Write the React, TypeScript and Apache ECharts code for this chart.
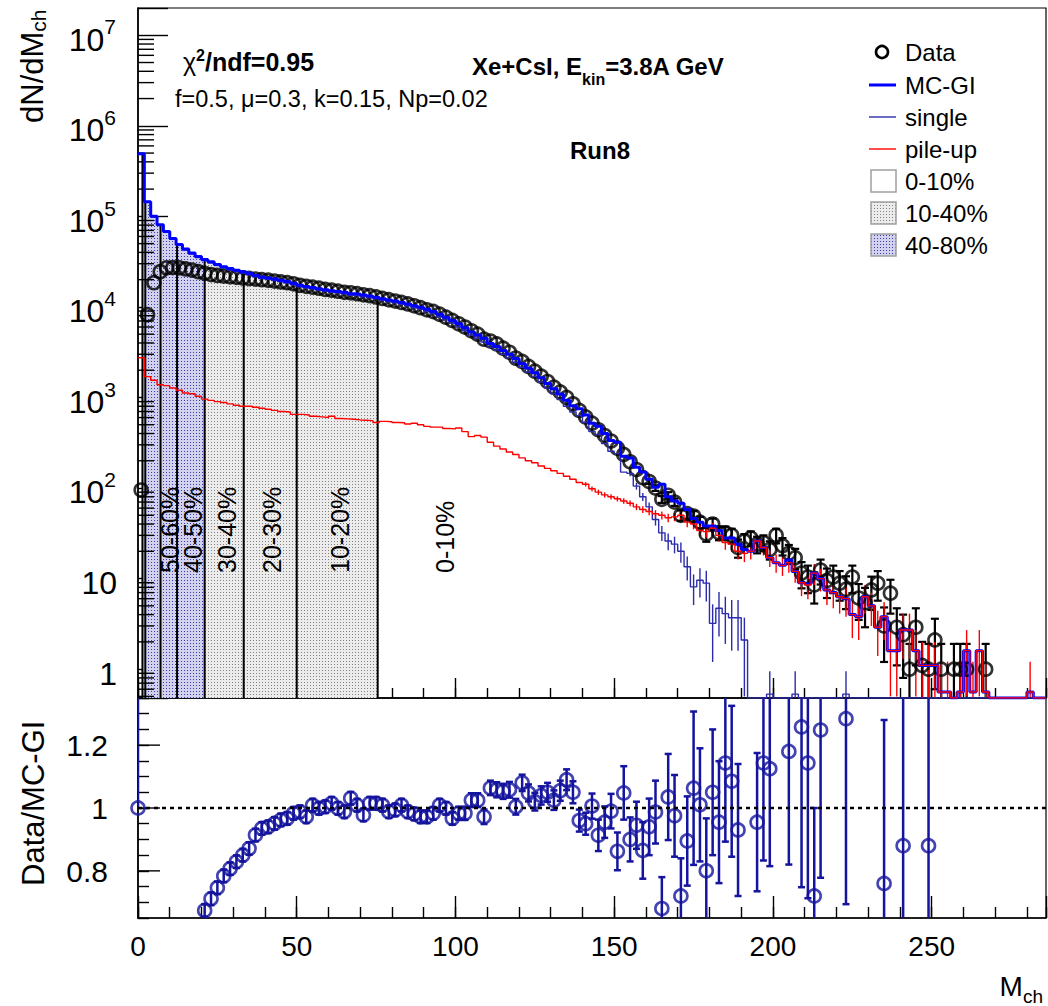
import React, { useEffect, useRef } from "react";
import * as echarts from "echarts";

// ---------------- data (bins of width 2, centres 1,3,5,...,285) ----------------
const BIN_WIDTH = 2;
const X_MIN = 0;
const X_MAX = 286;
const Y_MIN = 0.48;
const Y_MAX = 2e7;
const R_MIN = 0.65;
const R_MAX = 1.35;

const DATA = [
  95, 8200, 18500, 24500, 27000, 27200, 27000, 26300, 25500, 24500,
  23500, 22800, 22300, 21900, 21500, 21200, 20900, 20600, 20300, 20000,
  19700, 19300, 18900, 18500, 18000, 17300, 16900, 16500, 16100, 15600,
  15300, 14900, 14500, 14300, 14000, 13600, 13300, 12900, 12400, 12000,
  11600, 11200, 10800, 10300, 9800, 9300, 8900, 8300, 7700, 7100,
  6500, 6000, 5450, 5000, 4400, 4200, 3900, 3500, 3150, 2720,
  2500, 2200, 1950, 1720, 1500, 1300, 1150, 1000, 850, 720,
  610, 520, 440, 380, 330, 275, 235, 195, 160, 130,
  118, 100, 75, 83, 70, 50, 52, 49, 42, 31,
  40, 32, 32, 30, 22, 26, 28, 24, 25, 21,
  30, 23, 19, 17, 11.5, 10.4, 8.5, 12.4, 9.5, 10.4,
  8.9, 7.6, 10.4, 6.1, 5.4, 7.5, 8.9, 3, 6.9, 2.9,
  2.4, 1, 2.9, 1.1, 1, 2.1, 1, 0, 1, 1,
  1, 0, 0, 1, 0, 0, 0, 0, 0, 0,
  0, 0, 0,
];
const DATA_ERR_FROM = 161;
const DATA_ERR = [
  7, 7, 6.5, 7, 6.5, 6.5, 6.5, 6.5, 6, 5.5,
  6, 5.5, 5.5, 5.5, 5, 5, 5.2, 5, 5, 4.8,
  5.5, 5, 4.5, 4.3, 3.7, 3.5, 3.2, 3.8, 3.4, 3.5,
  3.2, 3, 3.5, 2.6, 2.5, 3, 3.2, 1.8, 2.8, 1.8,
  1.6, 0.9, 1.8, 0.9, 0.9, 1.5, 0.9, 0, 0.9, 0.9,
  0.9, 0, 0, 0.9,
];

const MC_GI = [
  490000, 145000, 100000, 81000, 68000, 57000, 49000, 43500, 39500, 36000,
  33500, 31500, 29500, 27800, 26500, 25400, 24400, 23500, 22300, 21400,
  20900, 20300, 19700, 19100, 18300, 17400, 16800, 16400, 15900, 15500,
  15100, 14800, 14500, 14000, 13900, 13500, 13200, 12800, 12300, 11900,
  11600, 11200, 10800, 10300, 9900, 9400, 8900, 8300, 7700, 7100,
  6500, 5900, 5300, 4900, 4500, 3950, 3650, 3300, 3000, 2700,
  2350, 2100, 1880, 1650, 1430, 1250, 1090, 930, 810, 750,
  640, 520, 480, 400, 335, 320, 225, 215, 170, 150,
  125, 102, 110, 80, 72, 68, 58, 46, 42, 38,
  38, 34, 28, 28, 24, 21, 20, 26, 22, 17,
  15, 14, 16, 12, 9, 8.7, 11.5, 10, 7.5, 7,
  6.3, 6, 4, 3.8, 6.3, 5, 2.9, 3.8, 1.6, 1.6,
  2.7, 2.7, 1.6, 1.1, 1.1, 1.1, 0.56, 0.56, 0, 0.56,
  1.6, 0.56, 1.6, 0.56, 0, 0, 0, 0, 0, 0,
  0.56, 0, 0,
];

const SINGLE = [
  487000, 143000, 98500, 79600, 66600, 55700, 47800, 42400, 38400, 35000,
  32500, 30600, 28600, 26900, 25600, 24600, 23600, 22700, 21500, 20600,
  20200, 19600, 19000, 18400, 17600, 16700, 16200, 15800, 15300, 14900,
  14500, 14200, 13900, 13400, 13300, 12900, 12600, 12300, 11800, 11400,
  11100, 10700, 10300, 9800, 9400, 8900, 8400, 7800, 7200, 6650,
  6000, 5500, 4900, 4500, 4100, 3600, 3350, 3000, 2750, 2450,
  2150, 1900, 1700, 1480, 1270, 1100, 950, 800, 690, 630,
  530, 420, 390, 310, 255, 240, 150, 145, 105, 80,
  62, 45, 32, 26, 24, 20, 13.5, 8.1, 9.6, 8.9,
  3.2, 4.7, 4.1, 3.7, 3.7, 2.1, 0, 0, 0, 0.53,
  0, 0, 0, 0.53, 0, 0, 0, 0, 0, 0,
  0, 0.53, 0, 0, 0, 0, 0, 0, 0, 0,
  0, 0, 0, 0, 0, 0, 0, 0, 0, 0,
  0, 0, 0, 0, 0, 0, 0, 0, 0, 0,
  0, 0, 0,
];
const SINGLE_ERR_FROM = 155;
const SINGLE_ERR = [
  10, 9, 8, 7, 6.5, 6, 5.5, 5, 5, 4,
  3, 3.4, 3.3, 2, 2.4, 2.2, 2.1, 2.1, 1.6, 0,
  0, 0, 0.42, 0, 0, 0, 0.42, 0, 0, 0,
  0, 0, 0, 0, 0.42,
];

const PILEUP = [
  2750, 1700, 1550, 1380, 1350, 1270, 1200, 1120, 1100, 1030,
  960, 930, 900, 880, 850, 820, 800, 800, 780, 760,
  740, 720, 700, 690, 650, 650, 640, 620, 610, 600,
  620, 585, 580, 575, 565, 560, 555, 530, 545, 540,
  530, 525, 510, 520, 500, 480, 470, 470, 455, 450,
  460, 420, 370, 380, 365, 320, 290, 270, 250, 235,
  215, 200, 190, 175, 165, 155, 145, 135, 125, 115,
  110, 98, 90, 84, 80, 76, 72, 68, 62, 58,
  55, 52, 50, 47, 48, 50, 42, 40, 34, 33,
  36, 30, 25, 24, 20, 19, 20, 26, 22, 17,
  15, 14, 15, 12, 9, 8.5, 11.5, 10, 7.5, 7,
  6.3, 6, 4, 3.8, 6.3, 5, 2.9, 3.8, 1.6, 1.6,
  2.7, 2.7, 1.6, 1.1, 1.1, 1.1, 0.56, 0.56, 0, 0.56,
  1.6, 0.56, 1.6, 0.56, 0, 0, 0, 0, 0, 0,
  0.56, 0, 0,
];
const PILEUP_ERR_FROM = 141;
const PILEUP_ERR = [
  6, 6, 6, 5.5, 5.5, 5, 5, 5, 5, 5,
  5, 5, 5, 5, 5, 5.5, 5, 5, 4.8, 4.8,
  5, 4.5, 4.2, 4.2, 3.8, 3.8, 3.8, 4.4, 4, 3.6,
  3.4, 3.3, 3.4, 3, 2.6, 2.6, 3, 2.8, 2.4, 2.3,
  2.2, 2.2, 1.8, 1.7, 2.2, 2, 1.5, 1.7, 1.1, 1.1,
  1.4, 1.4, 1.1, 0.9, 0.9, 0.9, 0.65, 0.65, 0, 0.65,
  1.1, 0.65, 1.1, 0.65, 0, 0, 0, 0, 0, 0,
  0.65, 0, 0,
];

// ratio Data / MC-GI
const RATIO_M = [
  0,
  21, 23, 25, 27, 29, 31, 33, 35, 37, 39,
  41, 43, 45, 47, 49, 51, 53, 55, 57, 59,
  61, 63, 65, 67, 69, 71, 73, 75, 77, 79,
  81, 83, 85, 87, 89, 91, 93, 95, 97, 99,
  101, 103, 105, 107, 109, 111, 113, 115, 117, 119,
  121, 123, 125, 127, 129, 131, 133, 135, 137, 139,
  141, 143, 145, 147, 149, 151, 153, 155, 157, 159,
  161, 163, 165, 167, 169, 171, 173, 175, 177, 179,
  181, 183, 185, 187, 189,
  195, 197, 199, 205, 209, 211, 213, 215, 223, 235, 241, 249,
];
const RATIO_V = [
  1.0,
  0.674, 0.711, 0.746, 0.784, 0.807, 0.829, 0.85, 0.871, 0.914, 0.935,
  0.94, 0.951, 0.962, 0.967, 0.983, 0.988, 0.972, 1.009, 0.999, 1.004,
  1.015, 0.999, 0.988, 1.031, 1.009, 0.978, 1.015, 1.015, 1.009, 0.988,
  0.994, 1.009, 0.988, 0.981, 0.972, 0.972, 0.983, 1.009, 0.999, 0.967,
  0.983, 0.983, 1.025, 1.025, 0.972, 1.064, 1.058, 1.053, 1.058, 1.004,
  1.08, 1.048, 1.02, 1.04, 1.05, 1.025, 1.055, 1.09, 1.05, 0.96,
  0.95, 1.006, 0.913, 0.955, 0.99, 0.862, 1.048, 0.9, 0.945, 0.865,
  0.94, 0.987, 0.68, 1.035, 0.975, 0.72, 0.895, 1.063, 1.01, 0.8,
  1.05, 0.955, 1.143, 1.085, 0.93,
  0.955, 1.143, 1.125, 1.18, 1.258, 1.143, 0.72, 1.248, 1.284, 0.76, 0.88, 0.88,
];
const RATIO_E = [
  0.5,
  0.02, 0.02, 0.02, 0.02, 0.02, 0.02, 0.02, 0.02, 0.02, 0.02,
  0.02, 0.02, 0.02, 0.02, 0.02, 0.02, 0.02, 0.02, 0.02, 0.02,
  0.02, 0.02, 0.02, 0.02, 0.02, 0.02, 0.02, 0.02, 0.02, 0.02,
  0.02, 0.02, 0.02, 0.02, 0.02, 0.02, 0.02, 0.02, 0.02, 0.02,
  0.021, 0.021, 0.022, 0.022, 0.023, 0.023, 0.024, 0.024, 0.025, 0.025,
  0.026, 0.027, 0.028, 0.029, 0.03, 0.031, 0.032, 0.033, 0.035, 0.035,
  0.035, 0.04, 0.05, 0.05, 0.055, 0.06, 0.085, 0.07, 0.075, 0.09,
  0.09, 0.1, 0.1, 0.137, 0.13, 0.12, 0.142, 0.244, 0.18, 0.167,
  0.2, 0.194, 0.25, 0.24, 0.21,
  0.22, 0.31, 0.31, 0.36, 0.51, 0.43, 0.28, 0.47, 0.59, 0.52, 0.9, 0.9,
];
const RATIO_UPPER_ONLY = [0]; // indices whose error bar is drawn upwards only
const RATIO_TICKS = [0.8, 1, 1.2];
const Y_DECADES = [0, 1, 2, 3, 4, 5, 6, 7];
const LOG_MINOR_MULT = [2, 3, 4, 5, 6, 7, 8, 9];

// centrality classes
const CENT_EDGES = [1.4, 2.3, 7.1, 12.3, 21, 33.3, 50, 75.5];
const CENT_FILL_4080 = [1.4, 21];
const CENT_FILL_1040 = [21, 75.5];
const CENT_LABELS = ["50-60%", "40-50%", "30-40%", "20-30%", "10-20%", "0-10%"];

// ---------------- layout / style ----------------
const FONT = '"Liberation Sans", Arial, Helvetica, sans-serif';
const GRID_LEFT = 138;
const GRID_W = 908;
const TOP_Y = 8;
const TOP_H = 690;
const BOT_Y = 698;
const BOT_H = 220;
const C_MC = "#0000ff";
const C_SINGLE = "#2b2bab";
const C_PILE = "#ff0000";
const C_RATIO = "#14149e";
const CENT_LABEL_X = [170, 193, 227, 272, 340, 445];
const CENT_LABEL_BOTTOM = 573;

// ---------------- helpers ----------------
let _ctx: any = null;
function textW(t: string, size: number, bold = false): number {
  if (!_ctx) _ctx = document.createElement("canvas").getContext("2d");
  if (!_ctx) return t.length * size * 0.55;
  _ctx.font = `${bold ? "bold " : ""}${size}px ${FONT}`;
  return _ctx.measureText(t).width;
}
const CENTRAL = 0.3465;
type Seg = { t: string; size: number; bold?: boolean; dy?: number; gap?: number };
function textRun(x0: number, baseline: number, segs: Seg[], align: "left" | "right", color = "#000", z = 20) {
  const ws = segs.map((s) => textW(s.t, s.size, s.bold));
  const total = ws.reduce((a, w, i) => a + w + (segs[i].gap || 0), 0);
  let x = align === "left" ? x0 : x0 - total;
  return segs.map((s, i) => {
    const el = {
      type: "text",
      x,
      y: baseline + (s.dy || 0) - CENTRAL * s.size,
      z,
      silent: true,
      style: {
        text: s.t,
        fill: color,
        fontSize: s.size,
        fontFamily: FONT,
        fontWeight: s.bold ? "bold" : "normal",
        align: "left",
        verticalAlign: "middle",
        textAlign: "left",
        textVerticalAlign: "middle",
      },
    };
    x += ws[i] + (s.gap || 0);
    return el;
  });
}

const binLo = (i: number) => i * BIN_WIDTH;
const binCenter = (i: number) => i * BIN_WIDTH + BIN_WIDTH / 2;
const binIndexOfCenter = (c: number) => Math.round((c - BIN_WIDTH / 2) / BIN_WIDTH);

// histogram outline; empty bins are drawn on the frame bottom as ROOT does
function histOutline(values: number[], from = X_MIN, to = X_MAX) {
  const pts: number[][] = [];
  values.forEach((v, i) => {
    const lo = Math.max(binLo(i), from);
    const hi = Math.min(binLo(i) + BIN_WIDTH, to);
    if (hi <= lo) return;
    const y = v > Y_MIN ? v : Y_MIN;
    pts.push([lo, y], [hi, y]);
  });
  return pts;
}
function valueAt(values: number[], x: number) {
  const i = Math.min(values.length - 1, Math.floor(x / BIN_WIDTH));
  return values[i];
}
function errItems(values: number[], errs: number[], fromCenter: number) {
  const start = binIndexOfCenter(fromCenter);
  const items: number[][] = [];
  errs.forEach((e, k) => {
    const i = start + k;
    const v = values[i];
    if (e > 0 && v > 0) items.push([binCenter(i), Math.max(v - e, Y_MIN / 10), v + e, 0]);
  });
  return items;
}
function dotPattern(bg: string, dot: string) {
  const c = document.createElement("canvas");
  c.width = 3;
  c.height = 3;
  const g = c.getContext("2d");
  if (g) {
    g.fillStyle = bg;
    g.fillRect(0, 0, 3, 3);
    g.fillStyle = dot;
    g.fillRect(1, 1, 1, 1);
  }
  return { image: c, repeat: "repeat" };
}

function errorBarSeries(items: number[][], color: string, width: number, cap: number, xi: number, yi: number) {
  return {
    type: "custom",
    xAxisIndex: xi,
    yAxisIndex: yi,
    clip: true,
    silent: true,
    data: items,
    encode: { x: 0, y: 1 },
    renderItem: (params: any, api: any) => {
      const x = api.value(0);
      const a = api.coord([x, api.value(1)]);
      const b = api.coord([x, api.value(2)]);
      const upperOnly = api.value(3) === 1;
      const st = { stroke: color, lineWidth: width };
      const children: any[] = [
        { type: "line", shape: { x1: a[0], y1: a[1], x2: b[0], y2: b[1] }, style: st },
      ];
      if (cap > 0) {
        children.push({ type: "line", shape: { x1: b[0] - cap, y1: b[1], x2: b[0] + cap, y2: b[1] }, style: st });
        if (!upperOnly)
          children.push({ type: "line", shape: { x1: a[0] - cap, y1: a[1], x2: a[0] + cap, y2: a[1] }, style: st });
      }
      return { type: "group", children };
    },
  };
}

function buildOption() {
  const grayPat = dotPattern("#ececec", "#808080");
  const bluePat = dotPattern("#d2d2ef", "#3c3cac");

  const xAxis = (gridIndex: number, interval: number, tickLen: number, labels: boolean, line: boolean) => ({
    type: "value",
    gridIndex,
    min: X_MIN,
    max: X_MAX,
    interval,
    position: "bottom",
    axisLine: { show: line, onZero: false, lineStyle: { color: "#000", width: 1.6 } },
    axisTick: { show: true, inside: true, length: tickLen, lineStyle: { color: "#000", width: 1.4 } },
    axisLabel: labels
      ? {
          show: true,
          margin: 14,
          fontSize: 28,
          fontFamily: FONT,
          color: "#000",
          formatter: (v: number) => (v % 50 === 0 ? String(v) : ""),
        }
      : { show: false },
    splitLine: { show: false },
  });

  const dataPts = DATA.map((v, i) => (v > 0 ? [binCenter(i), v] : null)).filter(Boolean);
  const ratioPts = RATIO_M.map((m, i) => [m, RATIO_V[i]]);
  const ratioErr = RATIO_M.map((m, i) =>
    RATIO_UPPER_ONLY.includes(i)
      ? [m, RATIO_V[i], RATIO_V[i] + RATIO_E[i], 1]
      : [m, RATIO_V[i] - RATIO_E[i], RATIO_V[i] + RATIO_E[i], 0]
  );

  const logMinor: number[][] = [];
  for (let k = -1; k <= 7; k++)
    LOG_MINOR_MULT.forEach((m) => {
      const v = m * Math.pow(10, k);
      if (v > Y_MIN && v < Y_MAX) logMinor.push([X_MIN, v]);
    });

  // ---------------- graphic (legend, annotations, titles) ----------------
  const g: any[] = [];
  const LEG_ROWS = [52, 85, 117, 149, 181, 213, 245];
  const LX0 = 869, LX1 = 896, LTX = 905;
  g.push({ type: "circle", z: 20, shape: { cx: 882, cy: LEG_ROWS[0], r: 6 }, style: { fill: "none", stroke: "#000", lineWidth: 2.6 } });
  g.push({ type: "line", z: 20, shape: { x1: LX0, y1: LEG_ROWS[1], x2: LX1, y2: LEG_ROWS[1] }, style: { stroke: C_MC, lineWidth: 3 } });
  g.push({ type: "line", z: 20, shape: { x1: LX0, y1: LEG_ROWS[2], x2: LX1, y2: LEG_ROWS[2] }, style: { stroke: C_SINGLE, lineWidth: 1.4 } });
  g.push({ type: "line", z: 20, shape: { x1: LX0, y1: LEG_ROWS[3], x2: LX1, y2: LEG_ROWS[3] }, style: { stroke: C_PILE, lineWidth: 1.4 } });
  [["#fff", 4], [grayPat, 5], [bluePat, 6]].forEach(([fill, r]: any) => {
    g.push({
      type: "rect",
      z: 20,
      shape: { x: 871, y: LEG_ROWS[r] - 11, width: 25, height: 22 },
      style: { fill, stroke: "#a0a0a0", lineWidth: 1.5 },
    });
  });
  ["Data", "MC-GI", "single", "pile-up", "0-10%", "10-40%", "40-80%"].forEach((t, i) => {
    g.push(...textRun(LTX, LEG_ROWS[i] + 8.6, [{ t, size: 24 }], "left"));
  });

  g.push(
    ...textRun(183, 71, [
      { t: "χ", size: 25 },
      { t: "2", size: 16, bold: true, dy: -10 },
      { t: "/ndf=0.95", size: 25, bold: true },
    ], "left")
  );
  g.push(...textRun(175, 107, [{ t: "f=0.5, μ=0.3, k=0.15, Np=0.02", size: 23.5 }], "left"));
  g.push(
    ...textRun(472, 75, [
      { t: "Xe+CsI, E", size: 24, bold: true },
      { t: "kin", size: 16, bold: true, dy: 10 },
      { t: "=3.8A GeV", size: 24, bold: true },
    ], "left")
  );
  g.push(...textRun(570, 159, [{ t: "Run8", size: 24, bold: true }], "left"));

  // centrality labels (rotated)
  CENT_LABELS.forEach((t, i) => {
    g.push({
      type: "group",
      z: 20,
      x: CENT_LABEL_X[i] + 9,
      y: CENT_LABEL_BOTTOM,
      rotation: Math.PI / 2,
      children: textRun(0, 0, [{ t, size: 25 }], "left"),
    });
  });

  // axis titles
  g.push({
    type: "group",
    z: 20,
    x: 43,
    y: 123,
    rotation: Math.PI / 2,
    children: textRun(0, 0, [
      { t: "dN/dM", size: 31 },
      { t: "ch", size: 21, dy: 3 },
    ], "left"),
  });
  g.push({
    type: "group",
    z: 20,
    x: 44,
    y: 886,
    rotation: Math.PI / 2,
    children: textRun(0, 0, [{ t: "Data/MC-GI", size: 31 }], "left"),
  });
  g.push(
    ...textRun(1043, 996, [
      { t: "M", size: 28 },
      { t: "ch", size: 19, dy: 7 },
    ], "right")
  );

  return {
    animation: false,
    backgroundColor: "#fff",
    grid: [
      { left: GRID_LEFT, top: TOP_Y, width: GRID_W, height: TOP_H, show: true, borderColor: "#000", borderWidth: 1.2, backgroundColor: "transparent", outerBoundsMode: "none", containLabel: false },
      { left: GRID_LEFT, top: BOT_Y, width: GRID_W, height: BOT_H, show: true, borderColor: "#000", borderWidth: 1.2, backgroundColor: "transparent", outerBoundsMode: "none", containLabel: false },
    ],
    xAxis: [
      xAxis(0, 50, 20, false, true),
      xAxis(0, 10, 10, false, false),
      xAxis(1, 50, 22, true, true),
      xAxis(1, 10, 11, false, false),
    ],
    yAxis: [
      {
        type: "log",
        gridIndex: 0,
        logBase: 10,
        min: Y_MIN,
        max: Y_MAX,
        axisLine: { show: true, onZero: false, lineStyle: { color: "#000", width: 1.6 } },
        axisTick: { show: true, inside: true, length: 30, lineStyle: { color: "#000", width: 1.4 } },
        axisLabel: { show: false },
        splitLine: { show: false },
      },
      {
        type: "value",
        gridIndex: 1,
        min: R_MIN,
        max: R_MAX,
        interval: 0.05,
        axisLine: { show: true, onZero: false, lineStyle: { color: "#000", width: 1.6 } },
        axisTick: { show: true, inside: true, length: 11, lineStyle: { color: "#000", width: 1.4 } },
        axisLabel: { show: false },
        splitLine: { show: false },
      },
    ],
    graphic: { elements: g },
    series: [
      // centrality fills under MC-GI
      {
        type: "line", xAxisIndex: 0, yAxisIndex: 0, z: 1, silent: true, symbol: "none", showSymbol: false,
        data: histOutline(MC_GI, CENT_FILL_4080[0], CENT_FILL_4080[1]),
        lineStyle: { width: 0, opacity: 0 },
        areaStyle: { origin: "start", color: bluePat, opacity: 1 },
      },
      {
        type: "line", xAxisIndex: 0, yAxisIndex: 0, z: 1, silent: true, symbol: "none", showSymbol: false,
        data: histOutline(MC_GI, CENT_FILL_1040[0], CENT_FILL_1040[1]),
        lineStyle: { width: 0, opacity: 0 },
        areaStyle: { origin: "start", color: grayPat, opacity: 1 },
      },
      // centrality boundaries
      {
        type: "custom", xAxisIndex: 0, yAxisIndex: 0, silent: true, clip: true,
        data: CENT_EDGES.map((e) => [e, valueAt(MC_GI, e)]),
        encode: { x: 0, y: 1 },
        renderItem: (p: any, api: any) => {
          const a = api.coord([api.value(0), Y_MIN]);
          const b = api.coord([api.value(0), api.value(1)]);
          return { type: "line", shape: { x1: a[0], y1: a[1], x2: b[0], y2: b[1] }, style: { stroke: "#000", lineWidth: 2 } };
        },
      },
      // data
      errorBarSeries(errItems(DATA, DATA_ERR, DATA_ERR_FROM), "#000", 2.2, 4, 0, 0),
      {
        type: "scatter", xAxisIndex: 0, yAxisIndex: 0, silent: true,
        data: dataPts, symbol: "circle", symbolSize: 13,
        itemStyle: { color: "rgba(0,0,0,0)", borderColor: "#000", borderWidth: 2.6 },
      },
      // single
      {
        type: "line", xAxisIndex: 0, yAxisIndex: 0, silent: true, symbol: "none", showSymbol: false,
        data: histOutline(SINGLE), lineStyle: { color: C_SINGLE, width: 1.4 },
      },
      errorBarSeries(errItems(SINGLE, SINGLE_ERR, SINGLE_ERR_FROM), C_SINGLE, 1.4, 0, 0, 0),
      // MC-GI
      {
        type: "line", xAxisIndex: 0, yAxisIndex: 0, silent: true, symbol: "none", showSymbol: false,
        data: histOutline(MC_GI), lineStyle: { color: C_MC, width: 3 },
      },
      // pile-up
      {
        type: "line", xAxisIndex: 0, yAxisIndex: 0, silent: true, symbol: "none", showSymbol: false,
        data: histOutline(PILEUP), lineStyle: { color: C_PILE, width: 1.4 },
      },
      errorBarSeries(errItems(PILEUP, PILEUP_ERR, PILEUP_ERR_FROM), C_PILE, 1.4, 0, 0, 0),
      // log minor ticks
      {
        type: "custom", xAxisIndex: 0, yAxisIndex: 0, silent: true,
        data: logMinor, encode: { x: 0, y: 1 },
        renderItem: (p: any, api: any) => {
          const a = api.coord([api.value(0), api.value(1)]);
          return { type: "line", shape: { x1: a[0], y1: a[1], x2: a[0] + 16, y2: a[1] }, style: { stroke: "#000", lineWidth: 1.4 } };
        },
      },
      // log axis labels
      {
        type: "custom", xAxisIndex: 0, yAxisIndex: 0, silent: true,
        data: Y_DECADES.map((k) => [X_MIN, Math.pow(10, k), k]),
        encode: { x: 0, y: 1 },
        renderItem: (p: any, api: any) => {
          const a = api.coord([api.value(0), api.value(1)]);
          const k = api.value(2);
          const right = a[0] - 21;
          const base = a[1] + 4 + 0.358 * 32;
          const segs: Seg[] =
            k === 0 ? [{ t: "1", size: 32 }] : k === 1 ? [{ t: "10", size: 32 }] : [{ t: "10", size: 32 }, { t: String(k), size: 21, dy: -16.5, gap: 1 }];
          return { type: "group", children: textRun(right, base, segs, "right") };
        },
      },
      // ---- ratio panel ----
      {
        type: "line", xAxisIndex: 2, yAxisIndex: 1, silent: true, symbol: "none", showSymbol: false,
        data: [[X_MIN, 1], [X_MAX, 1]],
        lineStyle: { color: "#000", width: 2.6, type: [4, 4] },
      },
      errorBarSeries(ratioErr, C_RATIO, 2.5, 3.5, 2, 1),
      {
        type: "scatter", xAxisIndex: 2, yAxisIndex: 1, silent: true, clip: true,
        data: ratioPts, symbol: "circle", symbolSize: 13,
        itemStyle: { color: "rgba(0,0,0,0)", borderColor: C_RATIO, borderWidth: 2.6 },
      },
      {
        type: "custom", xAxisIndex: 2, yAxisIndex: 1, silent: true,
        data: RATIO_TICKS.map((v) => [X_MIN, v]),
        encode: { x: 0, y: 1 },
        renderItem: (p: any, api: any) => {
          const v = api.value(1);
          const a = api.coord([api.value(0), v]);
          return {
            type: "group",
            children: [
              { type: "line", shape: { x1: a[0], y1: a[1], x2: a[0] + 22, y2: a[1] }, style: { stroke: "#000", lineWidth: 1.4 } },
              ...textRun(a[0] - 30, a[1] + 0.358 * 30, [{ t: String(v), size: 30 }], "right"),
            ],
          };
        },
      },
    ],
  };
}

export default function App() {
  const ref = useRef<HTMLDivElement>(null);
  useEffect(() => {
    if (!ref.current) return;
    const chart = echarts.init(ref.current, undefined, { renderer: "svg" });
    chart.setOption(buildOption() as any);
    return () => chart.dispose();
  }, []);
  return (
    <div
      ref={ref}
      style={{ position: "absolute", left: 0, top: 0, width: 1048, height: 1006, background: "#fff" }}
    />
  );
}
